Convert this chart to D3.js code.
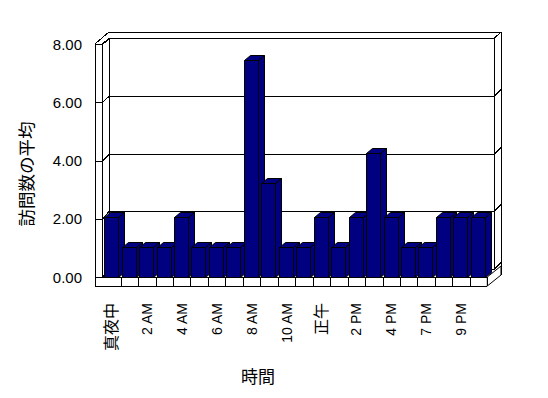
<!DOCTYPE html>
<html>
<head>
<meta charset="utf-8">
<script src="https://cdn.jsdelivr.net/npm/d3@7"></script>
<style>
  html, body { margin: 0; padding: 0; background: #fff; }
  svg { display: block; }
  text { font-family: "Liberation Sans", Arial, "Noto Sans CJK JP", sans-serif; fill: #000; }
</style>
</head>
<body>
<svg id="chart" width="548" height="398"></svg>
<script>
// ---- data ----
const categories = ["真夜中","1 AM","2 AM","3 AM","4 AM","5 AM","6 AM","7 AM","8 AM","9 AM","10 AM","11 AM",
                    "正午","1 PM","2 PM","3 PM","4 PM","6 PM","7 PM","8 PM","9 PM","10 PM"];
const values = [2.0,1.0,1.0,1.0,2.0,1.0,1.0,1.0,7.2,3.1,1.0,1.0,2.0,1.0,2.0,4.1,2.0,1.0,1.0,2.0,2.0,2.0];
const tickLabels = ["真夜中","2 AM","4 AM","6 AM","8 AM","10 AM","正午","2 PM","4 PM","7 PM","9 PM"];
const yTicks = [0, 2, 4, 6, 8];
const yTitle = "訪問数の平均";
const xTitle = "時間";

// ---- layout ----
const svg = d3.select("#chart");
const x = d3.scaleBand().domain(categories).range([103.2, 487.3]);
const yFront = d3.scaleLinear().domain([0, 8]).range([277, 44]);
const yBack = d3.scaleLinear().domain([0, 8]).range([268.5, 38.5]);
const yBar = d3.scaleLinear().domain([0, 8]).range([277, 35.4]);

const wallL = 95, wallLi = 102, backL = 109, backR = 494, outerR = 501;
const floorBottom = 286, floorTop = yFront(0);
const line = (x1, y1, x2, y2) => svg.append("line")
  .attr("x1", x1).attr("y1", y1).attr("x2", x2).attr("y2", y2)
  .attr("stroke", "#000").attr("stroke-width", 1).attr("shape-rendering", "crispEdges");
const poly = (pts, fill) => svg.append("polygon")
  .attr("points", pts.map(p => p.join(",")).join(" "))
  .attr("fill", fill).attr("stroke", "#000").attr("stroke-width", 1)
  .attr("stroke-linejoin", "miter");

const top8 = yBack(8);
// back wall and walls
line(backL, 32, outerR, 32);
line(backL, top8, backR, top8);
line(backR, top8, outerR, 32);
line(backR, top8, backR, yBack(0));
line(outerR, 32, outerR, 275);
line(wallL, yFront(8), backL, 32);
line(wallLi, yFront(8), backL, top8);
line(backL, top8, backL, yBack(0));

// gridlines + wall ticks
yTicks.forEach(v => {
  const yf = Math.round(yFront(v)) + 0.5, yb = Math.round(yBack(v)) + 0.5;
  line(wallL, yf, wallLi, yf);
  line(wallLi, yf, backL, yb);
  if (v < 8) {
    line(backL, yb, backR, yb);
    line(backR, yb, outerR, yb - 7);
  }
});

// floor
const fL = wallL, fR = x.range()[1];
poly([[fR, floorTop], [outerR, floorTop - 11], [outerR, floorBottom - 11], [fR, floorBottom]], "#fff");
line(fL, floorBottom + 0.5, fR, floorBottom + 0.5);
line(wallLi, floorTop + 0.5, fR, floorTop + 0.5);
categories.forEach((c, i) => {
  const xx = Math.round(x(c) + x.bandwidth()) + 0.5;
  line(xx, floorTop, xx, floorBottom);
});

// bars (left to right so later fronts cover earlier sides)
const bw = 14, dx = 6, dy = -5;
categories.forEach((c, i) => {
  const x0 = Math.round(x(c) + 1) + 0.5, x1 = x0 + bw;
  const yt = Math.round(yBar(values[i])) + 0.5, yb = Math.round(yBar(0)) + 0.5;
  const fill = "#000080";
  poly([[x1, yb], [x1 + dx, yb + dy], [x1 + dx, yt + dy], [x1, yt]], fill);
  poly([[x0, yt], [x0 + dx, yt + dy], [x1 + dx, yt + dy], [x1, yt]], fill);
  poly([[x0, yb], [x1, yb], [x1, yt], [x0, yt]], fill);
});

// left wall front face
line(wallL + 0.5, yFront(8), wallL + 0.5, floorBottom + 0.5);
line(wallLi + 0.5, yFront(8), wallLi + 0.5, floorTop + 0.5);

// y labels
yTicks.forEach(v => {
  svg.append("text")
    .attr("x", 82).attr("y", yFront(v))
    .attr("text-anchor", "end").attr("dominant-baseline", "central")
    .attr("font-size", 15)
    .text(d3.format(".2f")(v));
});

// x labels
tickLabels.forEach(lbl => {
  const cx = x(lbl) + x.bandwidth() / 2;
  const cjk = /[^\x00-\x7F]/.test(lbl);
  svg.append("text")
    .attr("transform", `translate(${cx},303) rotate(-90)`)
    .attr("text-anchor", "end").attr("dominant-baseline", "central")
    .attr("font-size", cjk ? 16 : 14)
    .text(lbl);
});

// titles
svg.append("text")
  .attr("transform", "translate(27,174) rotate(-90)")
  .attr("text-anchor", "middle").attr("dominant-baseline", "central")
  .attr("font-size", 17.5)
  .text(yTitle);
svg.append("text")
  .attr("x", 258).attr("y", 377)
  .attr("text-anchor", "middle").attr("dominant-baseline", "central")
  .attr("font-size", 17)
  .text(xTitle);
</script>
</body>
</html>
